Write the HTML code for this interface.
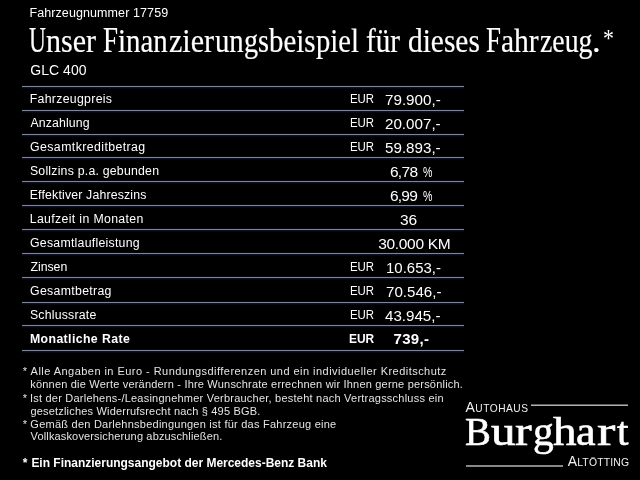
<!DOCTYPE html>
<html><head><meta charset="utf-8"><title>Finanzierungsbeispiel</title>
<style>
html,body{margin:0;padding:0;background:#000;}
body{width:640px;height:480px;position:relative;overflow:hidden;font-family:"Liberation Sans",sans-serif;}
.t{position:absolute;white-space:nowrap;transform-origin:0 50%;display:block;}
.ln{position:absolute;left:22px;width:442px;height:1px;background:#7d8598;box-shadow:0 -1px 0 #06070e,0 1px 0 #0c1020,0 2px 0 #05070f;}
.hl{position:absolute;height:1px;background:#e4e4e4;}
#page{position:absolute;left:0;top:0;width:640px;height:480px;will-change:transform;}

</style></head><body><div id="page">
<div class="ln" style="top:86px"></div><div class="ln" style="top:110px"></div><div class="ln" style="top:134px"></div><div class="ln" style="top:157px"></div><div class="ln" style="top:181px"></div><div class="ln" style="top:205px"></div><div class="ln" style="top:229px"></div><div class="ln" style="top:253px"></div><div class="ln" style="top:277px"></div><div class="ln" style="top:302px"></div><div class="ln" style="top:325px"></div><div class="ln" style="top:350px"></div>
<span class="t" style='left:29.43px;top:6.00px;font:400 12.5px/15px "Liberation Sans", sans-serif;color:#fff;letter-spacing:0.096px;'>Fahrzeugnummer 17759</span>
<span class="t" style='left:28.69px;top:20.00px;font:400 35px/42px "Liberation Serif", serif;color:#fff;transform:scaleX(0.6678);-webkit-text-stroke:0.2px #fff;'>U</span>
<span class="t" style='left:45.92px;top:20.00px;font:400 34.5px/41px "Liberation Serif", serif;color:#fff;transform:scaleX(0.8703);-webkit-text-stroke:0.2px #fff;'>nser</span>
<span class="t" style='left:103.32px;top:20.00px;font:400 35px/42px "Liberation Serif", serif;color:#fff;transform:scaleX(0.7692);-webkit-text-stroke:0.2px #fff;'>F</span>
<span class="t" style='left:117.98px;top:20.00px;font:400 34.5px/41px "Liberation Serif", serif;color:#fff;transform:scaleX(0.8347);-webkit-text-stroke:0.2px #fff;'>inan</span>
<span class="t" style='left:169.35px;top:20.00px;font:400 34.5px/41px "Liberation Serif", serif;color:#fff;transform:scaleX(0.8717);-webkit-text-stroke:0.2px #fff;'>zier</span>
<span class="t" style='left:215.03px;top:20.00px;font:400 34.5px/41px "Liberation Serif", serif;color:#fff;transform:scaleX(0.8324);-webkit-text-stroke:0.2px #fff;'>un</span>
<span class="t" style='left:243.74px;top:20.00px;font:400 34.5px/41px "Liberation Serif", serif;color:#fff;transform:scaleX(0.8162);-webkit-text-stroke:0.2px #fff;'>gs</span>
<span class="t" style='left:268.57px;top:20.00px;font:400 34.5px/41px "Liberation Serif", serif;color:#fff;transform:scaleX(0.8361);-webkit-text-stroke:0.2px #fff;'>beis</span>
<span class="t" style='left:315.99px;top:20.00px;font:400 34.5px/41px "Liberation Serif", serif;color:#fff;transform:scaleX(0.8289);-webkit-text-stroke:0.2px #fff;'>piel</span>
<span class="t" style='left:366.19px;top:20.00px;font:400 34.5px/41px "Liberation Serif", serif;color:#fff;transform:scaleX(0.8435);-webkit-text-stroke:0.2px #fff;'>für</span>
<span class="t" style='left:407.60px;top:20.00px;font:400 34.5px/41px "Liberation Serif", serif;color:#fff;transform:scaleX(0.8518);-webkit-text-stroke:0.2px #fff;'>dieses</span>
<span class="t" style='left:486.48px;top:20.00px;font:400 35px/42px "Liberation Serif", serif;color:#fff;transform:scaleX(0.7689);-webkit-text-stroke:0.2px #fff;'>F</span>
<span class="t" style='left:500.93px;top:20.00px;font:400 34.5px/41px "Liberation Serif", serif;color:#fff;transform:scaleX(0.8556);-webkit-text-stroke:0.2px #fff;'>ahr</span>
<span class="t" style='left:539.55px;top:20.00px;font:400 34.5px/41px "Liberation Serif", serif;color:#fff;transform:scaleX(0.8063);-webkit-text-stroke:0.2px #fff;'>zeug</span>
<span class="t" style='left:591.76px;top:20.00px;font:400 34.5px/41px "Liberation Serif", serif;color:#fff;transform:scaleX(1.0072);-webkit-text-stroke:0.2px #fff;'>.</span>
<span class="t" style='left:602.50px;top:24.00px;font:400 24.5px/29px "Liberation Serif", serif;color:#fff;transform:scaleX(0.8922);'>*</span>
<span class="t" style='left:30.29px;top:62.00px;font:400 14px/17px "Liberation Sans", sans-serif;color:#fff;letter-spacing:0.027px;'>GLC 400</span>
<span class="t" style='left:29.75px;top:92.00px;font:400 12.3px/15px "Liberation Sans", sans-serif;color:#fff;letter-spacing:0.301px;'>Fahrzeugpreis</span>
<span class="t" style='left:30.54px;top:116.00px;font:400 12.3px/15px "Liberation Sans", sans-serif;color:#fff;letter-spacing:0.118px;'>Anzahlung</span>
<span class="t" style='left:30.05px;top:140.00px;font:400 12.3px/15px "Liberation Sans", sans-serif;color:#fff;letter-spacing:0.422px;'>Gesamtkreditbetrag</span>
<span class="t" style='left:29.90px;top:164.00px;font:400 12.3px/15px "Liberation Sans", sans-serif;color:#fff;letter-spacing:0.224px;'>Sollzins p.a. gebunden</span>
<span class="t" style='left:29.75px;top:188.00px;font:400 12.3px/15px "Liberation Sans", sans-serif;color:#fff;letter-spacing:0.173px;'>Effektiver Jahreszins</span>
<span class="t" style='left:29.75px;top:212.00px;font:400 12.3px/15px "Liberation Sans", sans-serif;color:#fff;letter-spacing:0.348px;'>Laufzeit in Monaten</span>
<span class="t" style='left:30.05px;top:236.00px;font:400 12.3px/15px "Liberation Sans", sans-serif;color:#fff;letter-spacing:0.253px;'>Gesamtlaufleistung</span>
<span class="t" style='left:30.53px;top:260.00px;font:400 12.3px/15px "Liberation Sans", sans-serif;color:#fff;letter-spacing:-0.041px;'>Zinsen</span>
<span class="t" style='left:30.05px;top:284.00px;font:400 12.3px/15px "Liberation Sans", sans-serif;color:#fff;letter-spacing:0.315px;'>Gesamtbetrag</span>
<span class="t" style='left:29.90px;top:308.00px;font:400 12.3px/15px "Liberation Sans", sans-serif;color:#fff;letter-spacing:0.211px;'>Schlussrate</span>
<span class="t" style='left:29.93px;top:332.00px;font:700 12.3px/15px "Liberation Sans", sans-serif;color:#fff;letter-spacing:0.396px;'>Monatliche Rate</span>
<span class="t" style='left:350.06px;top:92.00px;font:400 12.3px/15px "Liberation Sans", sans-serif;color:#fff;transform:scaleX(0.9293);'>EUR</span>
<span class="t" style='left:385.19px;top:90.00px;font:400 15.5px/19px "Liberation Sans", sans-serif;color:#fff;transform:scaleX(0.9800);'>79.900,-</span>
<span class="t" style='left:350.06px;top:116.00px;font:400 12.3px/15px "Liberation Sans", sans-serif;color:#fff;transform:scaleX(0.9293);'>EUR</span>
<span class="t" style='left:385.29px;top:114.00px;font:400 15.5px/19px "Liberation Sans", sans-serif;color:#fff;transform:scaleX(0.9783);'>20.007,-</span>
<span class="t" style='left:350.06px;top:140.00px;font:400 12.3px/15px "Liberation Sans", sans-serif;color:#fff;transform:scaleX(0.9293);'>EUR</span>
<span class="t" style='left:384.64px;top:138.00px;font:400 15.5px/19px "Liberation Sans", sans-serif;color:#fff;transform:scaleX(0.9788);'>59.893,-</span>
<span class="t" style='left:350.06px;top:260.00px;font:400 12.3px/15px "Liberation Sans", sans-serif;color:#fff;transform:scaleX(0.9293);'>EUR</span>
<span class="t" style='left:386.28px;top:258.00px;font:400 15.5px/19px "Liberation Sans", sans-serif;color:#fff;transform:scaleX(0.9657);'>10.653,-</span>
<span class="t" style='left:350.06px;top:284.00px;font:400 12.3px/15px "Liberation Sans", sans-serif;color:#fff;transform:scaleX(0.9293);'>EUR</span>
<span class="t" style='left:385.71px;top:282.00px;font:400 15.5px/19px "Liberation Sans", sans-serif;color:#fff;transform:scaleX(0.9742);'>70.546,-</span>
<span class="t" style='left:350.06px;top:308.00px;font:400 12.3px/15px "Liberation Sans", sans-serif;color:#fff;transform:scaleX(0.9293);'>EUR</span>
<span class="t" style='left:385.21px;top:306.00px;font:400 15.5px/19px "Liberation Sans", sans-serif;color:#fff;transform:scaleX(0.9755);'>43.945,-</span>
<span class="t" style='left:389.88px;top:162.00px;font:400 15.5px/19px "Liberation Sans", sans-serif;color:#fff;letter-spacing:-0.675px;'>6,78</span>
<span class="t" style='left:423.33px;top:162.00px;font:400 15.5px/19px "Liberation Sans", sans-serif;color:#fff;transform:scaleX(0.6849);'>%</span>
<span class="t" style='left:389.88px;top:186.00px;font:400 15.5px/19px "Liberation Sans", sans-serif;color:#fff;letter-spacing:-0.714px;'>6,99</span>
<span class="t" style='left:423.33px;top:186.00px;font:400 15.5px/19px "Liberation Sans", sans-serif;color:#fff;transform:scaleX(0.6849);'>%</span>
<span class="t" style='left:400.06px;top:210.00px;font:400 15.5px/19px "Liberation Sans", sans-serif;color:#fff;letter-spacing:-0.267px;'>36</span>
<span class="t" style='left:378.14px;top:234.00px;font:400 15.5px/19px "Liberation Sans", sans-serif;color:#fff;letter-spacing:-0.305px;'>30.000 KM</span>
<span class="t" style='left:348.83px;top:332.00px;font:700 12.5px/15px "Liberation Sans", sans-serif;color:#fff;transform:scaleX(0.9560);'>EUR</span>
<span class="t" style='left:393.53px;top:330.00px;font:700 15px/18px "Liberation Sans", sans-serif;color:#fff;letter-spacing:0.293px;'>739,-</span>
<span class="t" style='left:22.86px;top:365.00px;font:400 11px/13px "Liberation Sans", sans-serif;color:#e4e4e4;'>*</span>
<span class="t" style='left:30.62px;top:365.00px;font:400 11px/13px "Liberation Sans", sans-serif;color:#e4e4e4;letter-spacing:0.459px;'>Alle Angaben in Euro - Rundungsdifferenzen und ein individueller Kreditschutz</span>
<span class="t" style='left:30.29px;top:378.00px;font:400 11px/13px "Liberation Sans", sans-serif;color:#e4e4e4;letter-spacing:0.197px;'>können die Werte verändern - Ihre Wunschrate errechnen wir Ihnen gerne persönlich.</span>
<span class="t" style='left:22.86px;top:392.00px;font:400 11px/13px "Liberation Sans", sans-serif;color:#e4e4e4;'>*</span>
<span class="t" style='left:29.92px;top:392.00px;font:400 11px/13px "Liberation Sans", sans-serif;color:#e4e4e4;letter-spacing:0.226px;'>Ist der Darlehens-/Leasingnehmer Verbraucher, besteht nach Vertragsschluss ein</span>
<span class="t" style='left:30.43px;top:405.00px;font:400 11px/13px "Liberation Sans", sans-serif;color:#e4e4e4;letter-spacing:0.190px;'>gesetzliches Widerrufsrecht nach § 495 BGB.</span>
<span class="t" style='left:22.86px;top:418.00px;font:400 11px/13px "Liberation Sans", sans-serif;color:#e4e4e4;'>*</span>
<span class="t" style='left:30.36px;top:418.00px;font:400 11px/13px "Liberation Sans", sans-serif;color:#e4e4e4;letter-spacing:0.239px;'>Gemäß den Darlehnsbedingungen ist für das Fahrzeug eine</span>
<span class="t" style='left:30.59px;top:430.00px;font:400 11px/13px "Liberation Sans", sans-serif;color:#e4e4e4;letter-spacing:0.149px;'>Vollkaskoversicherung abzuschließen.</span>
<span class="t" style='left:22.68px;top:456.00px;font:700 12px/14px "Liberation Sans", sans-serif;color:#fff;'>*</span>
<span class="t" style='left:31.38px;top:456.00px;font:700 12px/14px "Liberation Sans", sans-serif;color:#fff;letter-spacing:-0.011px;'>Ein Finanzierungsangebot der Mercedes-Benz Bank</span>
<span class="t" style='left:464.67px;top:409.00px;font:400 39.5px/47px "Liberation Serif", serif;color:#fff;transform:scaleX(0.9819);-webkit-text-stroke:0.6px #fff;'>B</span>
<span class="t" style='left:490.85px;top:409.00px;font:400 39.5px/47px "Liberation Serif", serif;color:#fff;transform:scaleX(1.2422);-webkit-text-stroke:0.6px #fff;'>u</span>
<span class="t" style='left:515.47px;top:409.00px;font:400 39.5px/47px "Liberation Serif", serif;color:#fff;transform:scaleX(1.2686);-webkit-text-stroke:0.6px #fff;'>r</span>
<span class="t" style='left:532.61px;top:409.00px;font:400 39.5px/47px "Liberation Serif", serif;color:#fff;transform:scaleX(1.0458);-webkit-text-stroke:0.6px #fff;'>g</span>
<span class="t" style='left:553.09px;top:409.00px;font:400 39.5px/47px "Liberation Serif", serif;color:#fff;transform:scaleX(1.1923);-webkit-text-stroke:0.6px #fff;'>h</span>
<span class="t" style='left:576.27px;top:409.00px;font:400 39.5px/47px "Liberation Serif", serif;color:#fff;transform:scaleX(1.1164);-webkit-text-stroke:0.6px #fff;'>a</span>
<span class="t" style='left:596.86px;top:409.00px;font:400 39.5px/47px "Liberation Serif", serif;color:#fff;transform:scaleX(1.3933);-webkit-text-stroke:0.6px #fff;'>r</span>
<span class="t" style='left:616.69px;top:409.00px;font:400 39.5px/47px "Liberation Serif", serif;color:#fff;transform:scaleX(1.0413);-webkit-text-stroke:0.6px #fff;'>t</span>
<span class="t" style='left:465.53px;top:399.00px;font:400 14px/17px "Liberation Sans", sans-serif;color:#f0f0f0;letter-spacing:0.505px;'>A<span style="font-size:10.2px">UTOHAUS</span></span>
<span class="t" style='left:567.68px;top:453.00px;font:400 14px/17px "Liberation Sans", sans-serif;color:#f0f0f0;letter-spacing:0.174px;'>A<span style="font-size:10.4px">LTÖTTING</span></span>
<div class="hl" style="left:531px;width:97px;top:404px;background:#5f5f5f"></div>
<div class="hl" style="left:531px;width:97px;top:405px;background:#b0b0b0"></div>
<div class="hl" style="left:466px;width:97px;top:465px;height:2px;background:#878787"></div>

</div></body></html>
